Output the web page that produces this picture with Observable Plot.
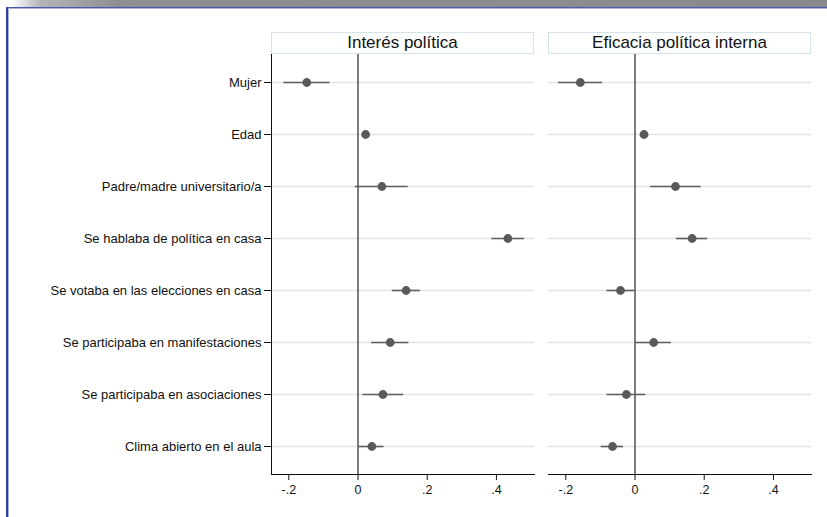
<!DOCTYPE html>
<html>
<head>
<meta charset="utf-8">
<script src="https://cdn.jsdelivr.net/npm/d3@7"></script>
<script src="https://cdn.jsdelivr.net/npm/@observablehq/plot@0.6"></script>
<style>
  html, body { margin: 0; padding: 0; background: #fff; }
  #wrap { position: relative; width: 827px; height: 517px; overflow: hidden; font-family: "Liberation Sans", Arial, sans-serif; }
  #topbar { position: absolute; left: 0; top: 0; width: 827px; height: 7px;
            background: linear-gradient(to right, #ffffff 0px, #ffffff 12px, #b5b5b5 40px, #8e8e8e 120px, #8a8a8a 100%); }
  #border { position: absolute; left: 6px; top: 7px; width: 830px; height: 520px;
            border-left: 2px solid #2f3f9e; border-top: 1px solid #4a5ab0; box-shadow: inset 1px 1px 0 #a9b3dd; }
  #chart { position: absolute; left: 0; top: 0; }
  .hdr { position: absolute; box-sizing: border-box; border: 1px solid #d4e2ea; background: #fff;
         text-align: center; font-size: 17px; color: #111; line-height: 19px; }
</style>
</head>
<body>
<div id="wrap">
  <div id="topbar"></div>
  <div id="border"></div>
  <div id="chart"></div>
</div>
<script>
// ---- data ----
const variables = [
  "Mujer",
  "Edad",
  "Padre/madre universitario/a",
  "Se hablaba de política en casa",
  "Se votaba en las elecciones en casa",
  "Se participaba en manifestaciones",
  "Se participaba en asociaciones",
  "Clima abierto en el aula"
];
const panels = ["Interés política", "Eficacia política interna"];

const interesCoef = [-0.148, 0.022, 0.069, 0.433, 0.139, 0.093, 0.072, 0.040];
const interesLo   = [-0.214, 0.016, -0.008, 0.387, 0.099, 0.039, 0.014, 0.004];
const interesHi   = [-0.081, 0.028, 0.145, 0.481, 0.180, 0.147, 0.132, 0.075];

const eficaciaCoef = [-0.158, 0.026, 0.117, 0.165, -0.042, 0.054, -0.025, -0.065];
const eficaciaLo   = [-0.221, 0.020, 0.045, 0.120, -0.081, 0.002, -0.081, -0.098];
const eficaciaHi   = [-0.094, 0.032, 0.191, 0.210, 0.000, 0.105, 0.031, -0.033];

const xTicks = [-0.2, 0, 0.2, 0.4];
const xTickLabels = ["-.2", "0", ".2", ".4"];
const xDomain = [-0.25, 0.51];

// ---- table built from arrays ----
const rows = [];
variables.forEach((v, i) => {
  rows.push({panel: panels[0], variable: v, coef: interesCoef[i], lo: interesLo[i], hi: interesHi[i]});
  rows.push({panel: panels[1], variable: v, coef: eficaciaCoef[i], lo: eficaciaLo[i], hi: eficaciaHi[i]});
});
const zeroRefs = panels.map(p => ({panel: p, x: 0}));
const leftEdge = [{panel: panels[0], x: xDomain[0]}];

const W = 827, H = 517;
const mTop = 53, mBottom = 43, mLeft = 271, mRight = 15;

const plot = Plot.plot({
  width: W,
  height: H,
  marginTop: mTop,
  marginBottom: mBottom,
  marginLeft: mLeft,
  marginRight: mRight,
  style: {fontFamily: "'Liberation Sans', Arial, sans-serif", color: "#111", background: "transparent"},
  fx: {domain: panels, paddingInner: 0.0505, paddingOuter: 0, axis: null},
  x: {domain: xDomain, axis: null},
  y: {domain: variables, type: "point", padding: 0.5, axis: null},
  marks: [
    Plot.gridY({stroke: "#e4e4e4", strokeOpacity: 1, strokeWidth: 1.3}),
    Plot.ruleX(zeroRefs, {x: "x", fx: "panel", stroke: "#454545", strokeWidth: 1.4}),
    Plot.ruleX(leftEdge, {x: "x", fx: "panel", stroke: "#111", strokeWidth: 1}),
    Plot.frame({anchor: "bottom", stroke: "#111", strokeWidth: 1}),
    Plot.ruleY(rows, {y: "variable", x1: "lo", x2: "hi", fx: "panel", stroke: "#5e5e5e", strokeWidth: 1.6}),
    Plot.dot(rows, {y: "variable", x: "coef", fx: "panel", r: 4.4, fill: "#5a5a5a", stroke: "none"}),
    Plot.axisX({ticks: xTicks, tickFormat: d => xTickLabels[xTicks.indexOf(d)], tickSize: 6, tickPadding: 5,
                fontSize: 12.5, stroke: "#111", color: "#111"}),
    Plot.axisY({tickSize: 7, tickPadding: 3, fontSize: 13, label: null, stroke: "#111", color: "#111"})
  ]
});
document.getElementById("chart").appendChild(plot);

// panel headers placed with the fx scale
const fx = plot.scale("fx");
const bw = fx.bandwidth;
panels.forEach(p => {
  const d = document.createElement("div");
  d.className = "hdr";
  d.textContent = p;
  d.style.left = fx.apply(p) + "px";
  d.style.width = bw + "px";
  d.style.top = "32px";
  d.style.height = "22px";
  document.getElementById("wrap").appendChild(d);
});
</script>
</body>
</html>
